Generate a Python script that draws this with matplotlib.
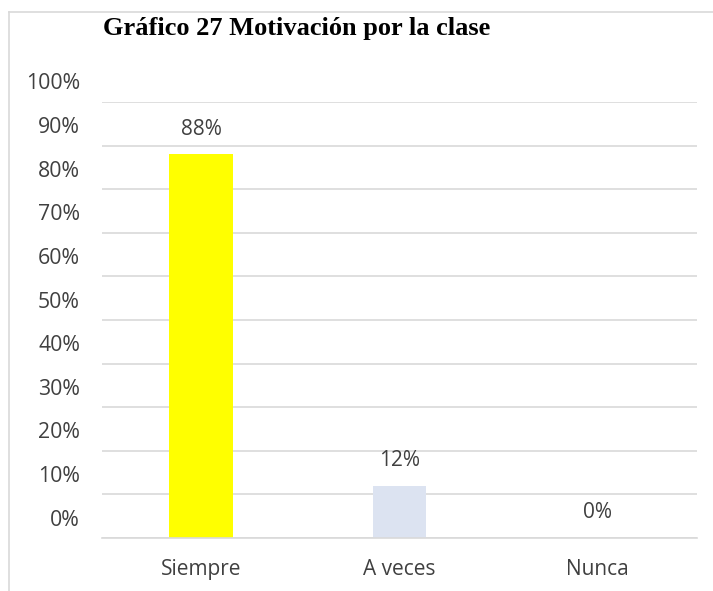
import matplotlib
matplotlib.use("Agg")
import matplotlib.pyplot as plt
from matplotlib.transforms import ScaledTranslation
from matplotlib.lines import Line2D

categories = ["Siempre", "A veces", "Nunca"]
values = [88, 12, 0]
value_labels = ["88%", "12%", "0%"]
ytick_values = [0, 10, 20, 30, 40, 50, 60, 70, 80, 90, 100]
ytick_labels = ["0%", "10%", "20%", "30%", "40%", "50%", "60%", "70%", "80%", "90%", "100%"]
bar_colors = ["#FFFF00", "#DCE3F1", "#DCE3F1"]
bar_widths = [0.32, 0.27, 0.27]
title = "Gráfico 27 Motivación por la clase"

W, H, DPI = 713, 591, 100
fig = plt.figure(figsize=(W / DPI, H / DPI), dpi=DPI)
fig.patch.set_facecolor("white")

left, right = 102 / W, 697 / W
bottom, top = 1 - 538 / H, 1 - 102 / H
ax = fig.add_axes([left, bottom, right - left, top - bottom])

x = list(range(len(categories)))
ax.bar(x, values, width=bar_widths, color=bar_colors, zorder=2)

ax.set_xlim(-0.5, len(categories) - 0.5)
ax.set_ylim(0, 100)
ax.set_yticks(ytick_values)
ax.set_yticklabels([])
ax.set_xticks(x)
ax.set_xticklabels(categories)

font = "Open Sans"
text_color = "#404040"

# y labels, drawn shifted upward relative to gridlines (as in the reference)
ylab_tf = ax.get_yaxis_transform() + ScaledTranslation(-22 / DPI, 18 / DPI, fig.dpi_scale_trans)
for v, lbl in zip(ytick_values, ytick_labels):
    ax.text(0, v, lbl, transform=ylab_tf, ha="right", va="center",
            fontsize=15.3, family=font, color=text_color, clip_on=False)

for lab in ax.get_xticklabels():
    lab.set_fontfamily(font)
    lab.set_fontsize(15)
    lab.set_color(text_color)

ax.tick_params(axis="y", length=0)
ax.tick_params(axis="x", length=0, pad=15)

ax.grid(axis="y", color="#D9D9D9", linewidth=1.2, zorder=0)
ax.set_axisbelow(True)
for s in ["left", "right", "top"]:
    ax.spines[s].set_visible(False)
ax.spines["bottom"].set_color("#D9D9D9")
ax.spines["bottom"].set_linewidth(1.2)

for xi, v, lbl in zip(x, values, value_labels):
    ax.annotate(lbl, (xi, v), xytext=(0, 25), textcoords="offset pixels",
                ha="center", va="center", fontsize=15, family=font, color=text_color)

fig.text(103 / W, 1 - 35 / H, title, ha="left", va="baseline",
         fontsize=19, fontweight="bold", family="Liberation Serif", color="black")

# outer frame lines (left and top)
fig.add_artist(Line2D([9 / W, 9 / W], [0, 1 - 12 / H], transform=fig.transFigure,
                      color="#D9D9D9", linewidth=1.2))
fig.add_artist(Line2D([9 / W, 1], [1 - 12 / H, 1 - 12 / H], transform=fig.transFigure,
                      color="#D9D9D9", linewidth=1.2))

fig.savefig("out.png", dpi=DPI)
